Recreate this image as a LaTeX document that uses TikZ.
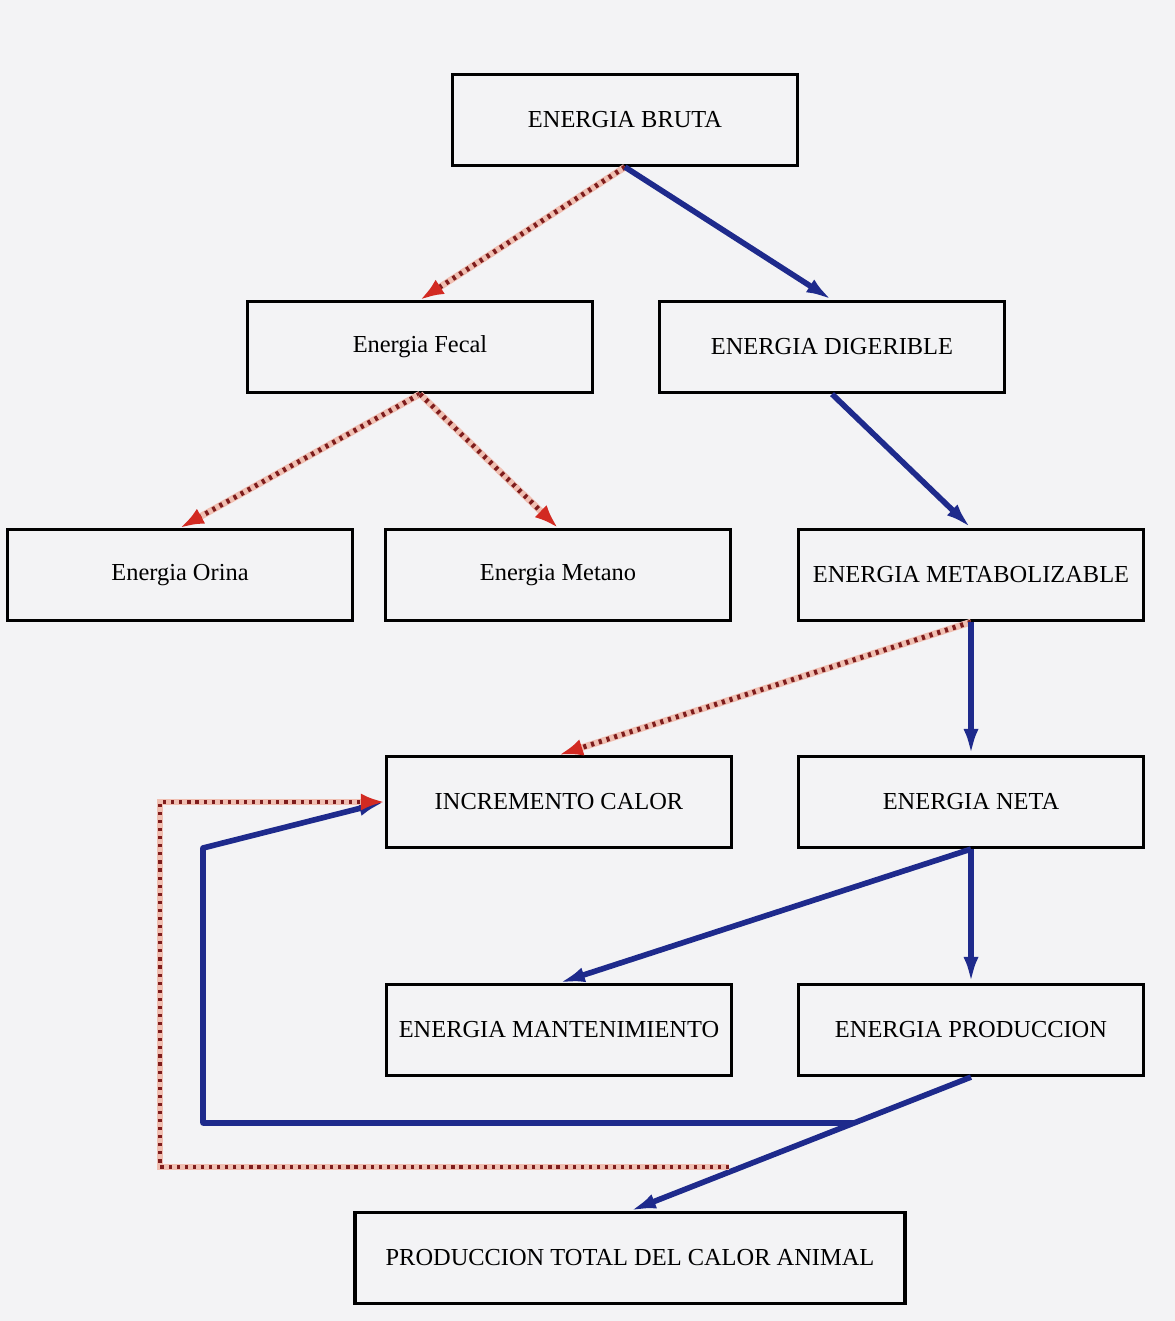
\documentclass[tikz,border=0pt]{standalone}
\usepackage{fontspec}
\setmainfont{Liberation Serif}
\usetikzlibrary{arrows.meta,calc}
\definecolor{paper}{HTML}{F3F3F5}
\definecolor{flowblue}{HTML}{1E2A8C}
\definecolor{lossred}{HTML}{7E1C1C}
\definecolor{losspink}{HTML}{F0BFB2}
\definecolor{tipred}{HTML}{D22A22}
\begin{document}
\begin{tikzpicture}[x=0.02cm,y=-0.02cm,
  box/.style={draw=black, line width=1.8pt, minimum width=6.9cm, minimum height=1.82cm,
    inner sep=0pt, font=\fontsize{13.9}{16}\selectfont},
  gain/.style={draw=flowblue, line width=3.2pt, line join=round,
    -{Latex[length=0.52cm,width=0.3cm]}},
  loss/.style={draw=lossred, line width=2.8pt, dash pattern=on 1.8pt off 2.8pt,
    -{Latex[length=0.48cm,width=0.34cm,color=tipred]},
    preaction={draw=losspink, -, solid, line width=3.8pt, shorten >=0.35cm}}]
\useasboundingbox (0,0) rectangle (1175,1321);
\fill[paper] (0,0) rectangle (1175,1321);

% energy boxes
\node[box] (bruta)  at (625,120)  {ENERGIA BRUTA};
\node[box] (fecal)  at (420,347)  {Energia Fecal};
\node[box] (dige)   at (832,347)  {ENERGIA DIGERIBLE};
\node[box] (orina)  at (180,575)  {Energia Orina};
\node[box] (metano) at (558,575)  {Energia Metano};
\node[box] (metab)  at (971,575)  {ENERGIA METABOLIZABLE};
\node[box] (incr)   at (559,802)  {INCREMENTO CALOR};
\node[box] (neta)   at (971,802)  {ENERGIA NETA};
\node[box] (mant)   at (559,1030) {ENERGIA MANTENIMIENTO};
\node[box] (prod)   at (971,1030) {ENERGIA PRODUCCION};
\node[box, minimum width=11cm] (total) at (630,1258) {PRODUCCION TOTAL DEL CALOR ANIMAL};

% losses (dotted red) and retained energy (blue)
\draw[loss] (bruta.south) -- (fecal.north);
\draw[gain] (bruta.south) -- (dige.north);
\draw[loss] (fecal.south) -- (orina.north);
\draw[loss] (fecal.south) -- (metano.north);
\draw[gain] (dige.south) -- (metab.north);
\draw[loss] (metab.south) -- (incr.north);
\draw[gain] (metab.south) -- (neta.north);
\draw[gain] (neta.south) -- (mant.north);
\draw[gain] (neta.south) -- (prod.north);
\draw[gain] (prod.south) -- (total.north);

% feedback loops into heat increment
\coordinate (jb) at ($(prod.south)!0.343!(total.north)$);
\coordinate (jr) at ($(prod.south)!0.672!(total.north)$);
\coordinate (loopb) at (203,848);
\coordinate (loopr) at (160,802);
\draw[gain] (jb) -- (jb -| loopb) -- (loopb) -- (incr.west);
\draw[loss] ([xshift=-0.25cm]jr) -- (jr -| loopr) -- (loopr) -- (incr.west);
\end{tikzpicture}
\end{document}
